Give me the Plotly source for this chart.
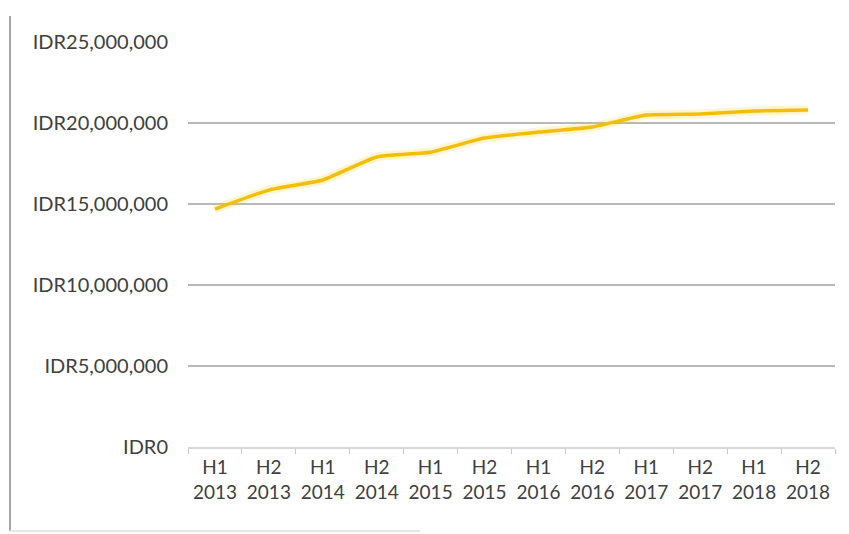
import plotly.graph_objects as go

periods = ["H1 2013", "H2 2013", "H1 2014", "H2 2014", "H1 2015", "H2 2015",
           "H1 2016", "H2 2016", "H1 2017", "H2 2017", "H1 2018", "H2 2018"]
tick_labels = [p.replace(" ", "<br>") for p in periods]
values = [14690000, 15860000, 16480000, 17900000, 18200000, 19070000,
          19440000, 19750000, 20490000, 20560000, 20740000, 20800000]
y_ticks = [0, 5000000, 10000000, 15000000, 20000000, 25000000]
y_tick_text = ["IDR" + f"{v:,}" for v in y_ticks]

W, H = 849, 534
L, R, T, B = 188, 14, 42, 87
pw, ph = W - L - R, H - T - B


def py(ypix):
    return (T + ph - ypix) / ph


def px(xpix):
    return (xpix - L) / pw


fig = go.Figure()
fig.add_trace(go.Scatter(
    x=periods, y=values, mode="lines", line_shape="spline",
    line=dict(color="rgba(255,200,0,0.18)", width=9, smoothing=0.5),
    hoverinfo="skip", showlegend=False))
fig.add_trace(go.Scatter(
    x=periods, y=values, mode="lines", line_shape="spline",
    line=dict(color="#F2BE0A", width=3.5, smoothing=0.5),
    showlegend=False))

font_family = "Lato, 'Open Sans', sans-serif"
fig.update_layout(
    width=W, height=H,
    margin=dict(l=L, r=R, t=T, b=B, pad=0),
    paper_bgcolor="white", plot_bgcolor="white",
    font=dict(family=font_family, size=20, color="#404040"),
    xaxis=dict(
        type="category", tickmode="array", tickvals=periods, ticktext=tick_labels,
        showgrid=False, zeroline=False, automargin=False, tickangle=0,
        showline=True, linecolor="#d9d9d9", linewidth=2,
        ticks="outside", tickson="boundaries", ticklen=5, tickcolor="#c8c8c8",
        ticklabelstandoff=2,
        tickfont=dict(size=19, color="#404040"),
        range=[-0.5, len(periods) - 0.5],
    ),
    yaxis=dict(
        range=[0, 25000000], tickmode="array", tickvals=y_ticks,
        ticktext=y_tick_text, automargin=False,
        showgrid=True, gridcolor="#b8b8b8", gridwidth=1.5,
        zeroline=False, showline=False,
        ticklabelstandoff=19,
        tickfont=dict(size=20, color="#404040"),
    ),
    shapes=[
        dict(type="line", xref="paper", yref="paper",
             x0=px(10), x1=px(10), y0=py(16), y1=py(531),
             line=dict(color="#a6a6a6", width=2)),
        dict(type="line", xref="paper", yref="paper",
             x0=px(10), x1=px(420), y0=py(531), y1=py(531),
             line=dict(color="#e6e6e6", width=2)),
    ],
)
fig.write_html("out.html")
